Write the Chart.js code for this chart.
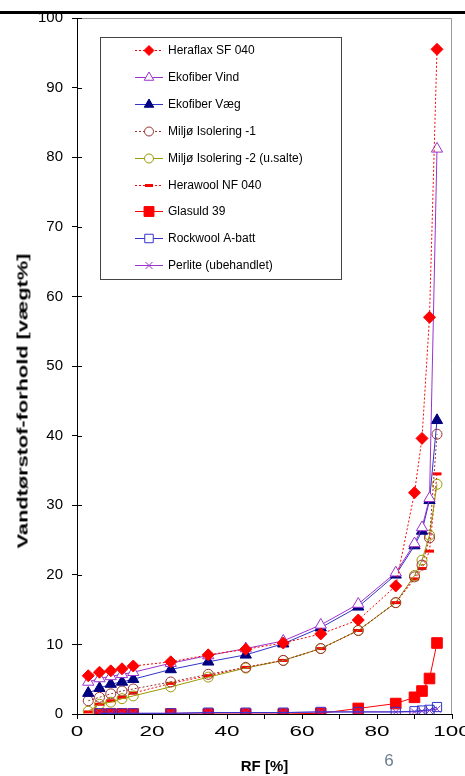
<!DOCTYPE html>
<html>
<head>
<meta charset="utf-8">
<script src="https://cdn.jsdelivr.net/npm/chart.js@4.4.1/dist/chart.umd.min.js"></script>
<style>
  html, body { margin: 0; padding: 0; background: #fff; }
  #wrap { position: relative; width: 465px; height: 776px; overflow: hidden; }
  #wrap canvas { position: absolute; left: 0; top: 0; }
  #topline { position: absolute; left: 0; top: 11px; width: 465px; height: 3px; background: #000; }
  #ytitle {
    position: absolute; left: 22px; top: 401px; white-space: nowrap;
    font: bold 15px "Liberation Sans", Arial, sans-serif;
    transform: translate(-50%, -50%) rotate(-90deg) scaleX(1.45);
  }
  #page {
    position: absolute; left: 389px; top: 761px; transform: translate(-50%, -50%);
    font: 17px "Liberation Sans", Arial, sans-serif; color: #6b7d8f;
  }
</style>
</head>
<body>
<div id="wrap">
  <canvas id="myChart" width="465" height="776"></canvas>
  <div id="topline"></div>
  <div id="ytitle">Vandtørstof-forhold [vægt%]</div>
  <div id="page">6</div>
</div>
<script>
// RF-værdier (x)
const rf = [3, 6, 9, 12, 15, 25, 35, 45, 55, 65, 75, 85, 90, 92, 94, 96];
const rfB = [6, 9, 12, 15, 25, 35, 45, 55, 65, 75, 85, 90, 92, 94, 96];

const heraflax     = [5.5, 6.0, 6.2, 6.5, 6.9, 7.5, 8.5, 9.3, 10.2, 11.5, 13.5, 18.4, 31.8, 39.6, 57.0, 95.5];
const ekofiberVind = [4.6, 5.1, 5.4, 5.7, 6.0, 7.3, 8.4, 9.4, 10.5, 12.8, 15.8, 20.3, 24.5, 26.8, 31.0, 81.2];
const ekofiberVaeg = [3.0, 3.7, 4.3, 4.6, 5.0, 6.4, 7.5, 8.5, 10.1, 12.4, 15.4, 20.0, 24.2, 26.3, 30.7, 42.2];
const miljo1       = [1.9, 2.4, 2.9, 3.3, 3.6, 4.6, 5.7, 6.7, 7.7, 9.4, 12.0, 16.0, 19.7, 21.4, 25.3, 40.2];
const miljo2       = [0.4, 1.4, 1.7, 2.2, 2.6, 3.9, 5.3, 6.6, 7.7, 9.4, 12.0, 16.0, 19.9, 22.1, 25.7, 33.0];
const herawool     = [0.3, 1.4, 1.9, 2.4, 3.0, 4.4, 5.5, 6.7, 7.7, 9.4, 12.0, 16.0, 19.4, 20.9, 23.4, 34.5];
const glasuld      = [0, 0, 0, 0, 0, 0, 0, 0, 0.1, 0.8, 1.5, 2.4, 3.3, 5.1, 10.2];
const rockwool     = [0.1, 0.1, 0.1, 0.1, 0.1, 0.2, 0.2, 0.2, 0.3, 0.3, 0.3, 0.4, 0.5, 0.6, 1.0];
const perlite      = [0.1, 0.1, 0.1, 0.1, 0.1, 0.2, 0.2, 0.2, 0.3, 0.3, 0.3, 0.3, 0.4, 0.5, 0.7];

const xTicks = [0, 20, 40, 60, 80, 100];

function pts(xs, ys) {
  return xs.map((x, i) => ({ x: x, y: ys[i] }));
}

function serie(label, xs, ys, line, dash, style, fill, border, radius, bw, legendR, order) {
  return {
    label: label,
    data: pts(xs, ys),
    showLine: true,
    borderColor: line,
    borderWidth: 1,
    borderDash: dash,
    pointStyle: style,
    pointBackgroundColor: fill,
    pointBorderColor: border,
    pointBorderWidth: bw,
    pointRadius: radius,
    pointHoverRadius: radius,
    legendRadius: legendR,
    order: order
  };
}

const dot = [2, 2];
const datasets = [
  serie('Heraflax SF 040', rf, heraflax, '#ff0000', dot, 'rectRot', '#ff0000', '#ff0000', 6, 1, 5, 0),
  serie('Ekofiber Vind', rf, ekofiberVind, '#9933cc', [], 'triangle', '#ffffff', '#9933cc', 6.5, 1, 5.5, 0),
  serie('Ekofiber Væg', rf, ekofiberVaeg, '#3333cc', [], 'triangle', '#000080', '#000080', 6.5, 1, 5.5, 0),
  serie('Miljø Isolering -1', rf, miljo1, '#993333', dot, 'circle', 'rgba(0,0,0,0)', '#993333', 5, 1, 4.5, 0),
  serie('Miljø Isolering -2 (u.salte)', rf, miljo2, '#999900', [], 'circle', 'rgba(0,0,0,0)', '#999900', 5, 1, 4.5, 0),
  serie('Herawool NF 040', rf, herawool, '#ff0000', dot, 'line', '#ff0000', '#ff0000', 4.5, 3, 4, 0),
  serie('Glasuld 39', rfB, glasuld, '#ff0000', [], 'rect', '#ff0000', '#ff0000', 7.5, 1, 7, 1),
  serie('Rockwool A-batt', rfB, rockwool, '#3333cc', [], 'rect', 'rgba(0,0,0,0)', '#3333cc', 6.5, 1, 6, -2),
  serie('Perlite (ubehandlet)', rfB, perlite, '#9933cc', [], 'crossRot', '#9933cc', '#9933cc', 5, 1, 5, -1)
];

// legende-boks inde i plotområdet
const legendBox = {
  id: 'legendBox',
  afterDraw(chart) {
    const ctx = chart.ctx;
    const left = 100, top = 37, w = 241, h = 242;
    ctx.save();
    ctx.fillStyle = '#fff';
    ctx.fillRect(left, top, w, h);
    ctx.strokeStyle = '#444';
    ctx.lineWidth = 1;
    ctx.strokeRect(left + 0.5, top + 0.5, w, h);
    chart.data.datasets.forEach((ds, i) => {
      const y = Math.round(top + 13 + i * 26.9) + 0.5;
      ctx.beginPath();
      ctx.setLineDash(ds.borderDash);
      ctx.strokeStyle = ds.borderColor;
      ctx.lineWidth = 1;
      ctx.moveTo(135, y);
      ctx.lineTo(163, y);
      ctx.stroke();
      ctx.setLineDash([]);
      ctx.fillStyle = ds.pointBackgroundColor === 'rgba(0,0,0,0)' ? '#fff' : ds.pointBackgroundColor;
      ctx.strokeStyle = ds.pointBorderColor;
      ctx.lineWidth = ds.pointBorderWidth;
      Chart.helpers.drawPoint(ctx, {
        pointStyle: ds.pointStyle, rotation: 0,
        radius: ds.legendRadius, borderWidth: ds.pointBorderWidth
      }, 149, y);
      ctx.fillStyle = '#000';
      ctx.font = '12px "Liberation Sans", Arial';
      ctx.textBaseline = 'middle';
      ctx.textAlign = 'left';
      ctx.fillText(ds.label, 168, y);
    });
    ctx.restore();
  }
};

// grå ramme øverst/højre, indvendige y-streger og x-tal
const frame = {
  id: 'frame',
  beforeDatasetsDraw(chart) {
    const ctx = chart.ctx;
    const a = chart.chartArea;
    const ys = chart.scales.y;
    const xs = chart.scales.x;
    ctx.save();
    ctx.strokeStyle = '#999';
    ctx.lineWidth = 1;
    ctx.beginPath();
    ctx.moveTo(a.left, a.top + 0.5);
    ctx.lineTo(a.right - 0.5, a.top + 0.5);
    ctx.lineTo(a.right - 0.5, a.bottom);
    ctx.stroke();
    ctx.strokeStyle = '#000';
    ys.ticks.forEach(t => {
      const py = Math.round(ys.getPixelForValue(t.value)) + 0.5;
      ctx.beginPath();
      ctx.moveTo(a.left, py);
      ctx.lineTo(a.left + 5, py);
      ctx.stroke();
    });
    ctx.fillStyle = '#000';
    ctx.font = '15px "Liberation Sans", Arial';
    ctx.textAlign = 'center';
    ctx.textBaseline = 'middle';
    xTicks.forEach(v => {
      const px = xs.getPixelForValue(v);
      ctx.save();
      ctx.translate(px, 732);
      ctx.scale(1.5, 1);
      ctx.fillText(String(v), 0, 0);
      ctx.restore();
    });
    ctx.restore();
  }
};

const ctx = document.getElementById('myChart').getContext('2d');
new Chart(ctx, {
  type: 'scatter',
  data: { datasets: datasets },
  options: {
    responsive: false,
    animation: false,
    layout: { padding: { top: 18, right: 13, left: 0, bottom: 0 } },
    plugins: { legend: { display: false }, tooltip: { enabled: false } },
    scales: {
      x: {
        type: 'linear', min: 0, max: 100,
        afterFit: s => { s.height = 62; },
        ticks: { stepSize: 10, display: false },
        grid: { drawOnChartArea: false, tickLength: 5, color: '#000' },
        border: { color: '#000', width: 1 },
        title: {
          display: true, text: 'RF [%]', color: '#000',
          font: { family: '"Liberation Sans", Arial', size: 15, weight: 'bold' },
          padding: { top: 0, bottom: 0 }
        }
      },
      y: {
        min: 0, max: 100,
        afterFit: s => { s.width = 77; },
        ticks: {
          stepSize: 10, padding: 9, color: '#000',
          font: { family: '"Liberation Sans", Arial', size: 15 }
        },
        grid: { drawOnChartArea: false, tickLength: 5, color: '#000' },
        border: { color: '#000', width: 1 }
      }
    }
  },
  plugins: [frame, legendBox]
});
</script>
</body>
</html>
